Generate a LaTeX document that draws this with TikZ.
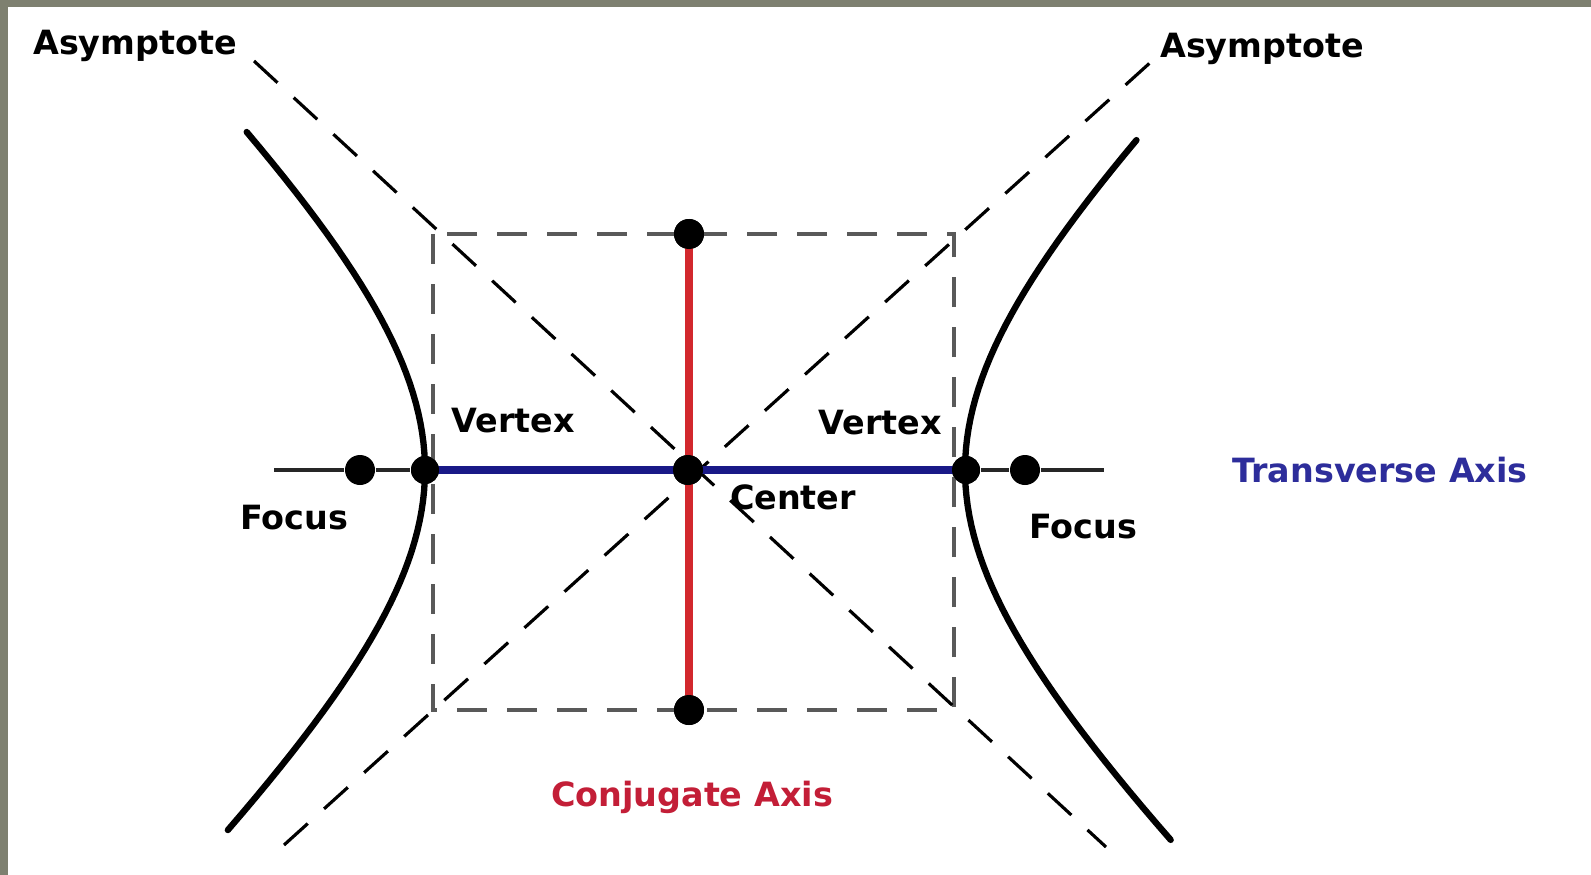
\documentclass[tikz,border=0pt]{standalone}
\usepackage{xcolor}
\usepackage{fontspec}
\setmainfont{DejaVu Sans}
\usepackage{tikz}

\definecolor{framegray}{RGB}{126,128,112}
\definecolor{transblue}{RGB}{25,25,135}
\definecolor{conjred}{RGB}{210,40,45}
\definecolor{labelblue}{RGB}{45,45,155}
\definecolor{labelred}{RGB}{195,30,55}

\begin{document}
\begin{tikzpicture}[
  font=\fontsize{9.5}{11}\selectfont\bfseries,
  dot/.style={circle, fill=black, inner sep=0pt, minimum size=3mm},
  curve/.style={line width=1.8pt, line cap=round},
  guide/.style={dash pattern=on 3mm off 2mm, line width=0.9pt, black!65},
  asym/.style={dash pattern=on 3.2mm off 2.2mm, line width=0.9pt, black},
  axisline/.style={line width=1.1pt, black!85},
  transverse/.style={line width=2pt, transblue},
  conjugate/.style={line width=2pt, conjred},
  lbl/.style={inner sep=1pt}
]
\fill[framegray] (0,0) rectangle (15.91,-8.75);
\fill[white] (0.08,-0.07) rectangle (15.91,-8.75);
\useasboundingbox (0,0) rectangle (15.91,-8.75);

\coordinate (bnw) at (4.33,-2.34);
\coordinate (bse) at (9.54,-7.10);
\coordinate (a1s) at (2.54,-0.61);
\coordinate (a1e) at (11.06,-8.47);
\coordinate (a2s) at (2.84,-8.45);
\coordinate (a2e) at (11.52,-0.61);
\coordinate (al) at (2.74,-4.70);
\coordinate (ar) at (11.04,-4.70);

\node[dot] (ctr) at (6.88,-4.70) {};
\node[dot, minimum size=2.8mm] (vl) at (4.25,-4.70) {};
\node[dot, minimum size=2.8mm] (vr) at (9.66,-4.70) {};
\node[dot] (fl) at (3.60,-4.70) {};
\node[dot] (fr) at (10.25,-4.70) {};
\node[dot] (ct) at (6.89,-2.34) {};
\node[dot] (cb) at (6.89,-7.10) {};

\draw[guide] (bnw) rectangle (bse);
\draw[asym] (a1s) -- (a1e);
\draw[asym] (a2s) -- (a2e);
\draw[axisline] (al) -- (fl) -- (vl);
\draw[axisline] (vr) -- (fr) -- (ar);
\draw[transverse] (vl.center) -- (ctr.center) -- (vr.center);
\draw[conjugate] (ct.center) -- (cb.center);

\draw[curve] plot[domain=-1.145:1.094, samples=60, variable=\t]
  ({6.95-2.70*cosh(\t)}, {-4.70+2.55*sinh(\t)});
\draw[curve] plot[domain=-1.167:1.075, samples=60, variable=\t]
  ({6.95+2.70*cosh(\t)}, {-4.70+2.55*sinh(\t)});

\node[dot] at (ctr) {};
\node[dot, minimum size=2.8mm] at (vl) {};
\node[dot, minimum size=2.8mm] at (vr) {};
\node[dot] at (ct) {};
\node[dot] at (cb) {};

\node[lbl] (asyl) at (1.35,-0.46) {Asymptote};
\node[lbl] (asyr) at (12.62,-0.49) {Asymptote};
\node[lbl] (vtxl) at (5.13,-4.21) {Vertex};
\node[lbl] (vtxr) at (8.80,-4.23) {Vertex};
\node[lbl] (ctrl) at (7.93,-4.97) {Center};
\node[lbl] (focl) at (2.94,-5.18) {Focus};
\node[lbl] (focr) at (10.83,-5.27) {Focus};
\node[lbl, text=labelblue] (trax) at (13.80,-4.70) {Transverse Axis};
\node[lbl, text=labelred] (cjax) at (6.92,-7.97) {Conjugate Axis};
\end{tikzpicture}
\end{document}
